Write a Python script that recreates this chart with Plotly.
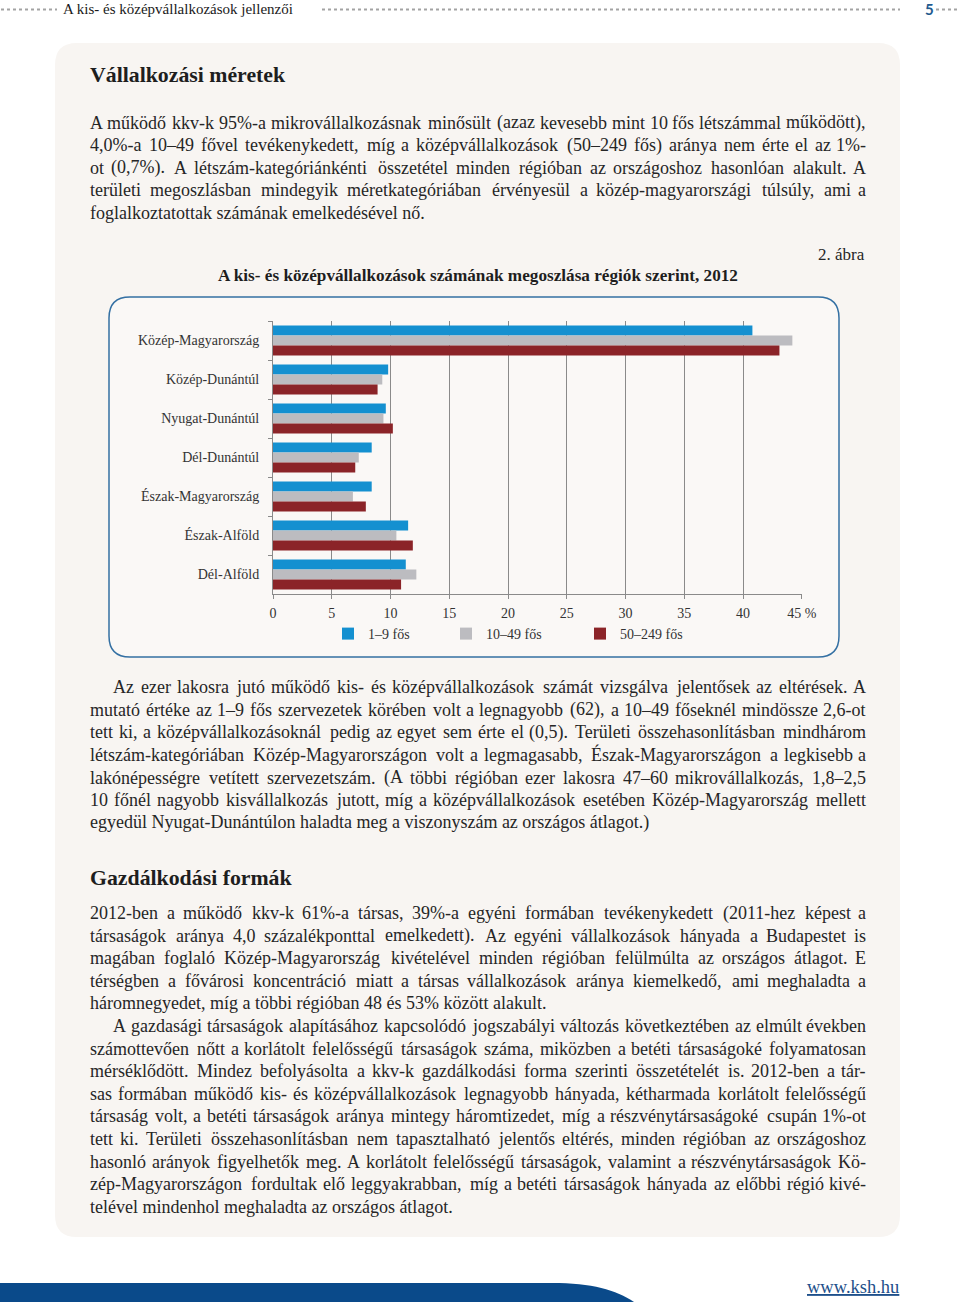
import unicodedata
import plotly.graph_objects as go

W, H = 960, 1308

# ---- chart data ----
regions = ['Közép-Magyarország', 'Közép-Dunántúl', 'Nyugat-Dunántúl', 'Dél-Dunántúl',
           'Észak-Magyarország', 'Észak-Alföld', 'Dél-Alföld']
series_names = ['1–9 fős', '10–49 fős', '50–249 fős']
micro = [40.8, 9.8, 9.6, 8.4, 8.4, 11.5, 11.3]
small = [44.2, 9.3, 9.4, 7.3, 6.8, 10.5, 12.2]
medium = [43.1, 8.9, 10.2, 7.0, 7.9, 11.9, 10.9]
x_ticks = [0, 5, 10, 15, 20, 25, 30, 35, 40, 45]
x_ticktext = ['0', '5', '10', '15', '20', '25', '30', '35', '40', '45 %']

# ---- page text ----
header_text = 'A kis- és középvállalkozások jellenzői'
page_no = '5'
heading1 = 'Vállalkozási méretek'
heading2 = 'Gazdálkodási formák'
chart_title = 'A kis- és középvállalkozások számának megoszlása régiók szerint, 2012'
fig_label = '2. ábra'
footer_url = 'www.ksh.hu'

para1 = [
    'A működő kkv-k 95%-a mikrovállalkozásnak minősült (azaz kevesebb mint 10 fős létszámmal működött),',
    '4,0%-a 10–49 fővel tevékenykedett, míg a középvállalkozások (50–249 fős) aránya nem érte el az 1%-',
    'ot (0,7%). A létszám-kategóriánkénti összetétel minden régióban az országoshoz hasonlóan alakult. A',
    'területi megoszlásban mindegyik méretkategóriában érvényesül a közép-magyarországi túlsúly, ami a',
    'foglalkoztatottak számának emelkedésével nő.',
]
para2 = [
    'Az ezer lakosra jutó működő kis- és középvállalkozások számát vizsgálva jelentősek az eltérések. A',
    'mutató értéke az 1–9 fős szervezetek körében volt a legnagyobb (62), a 10–49 főseknél mindössze 2,6-ot',
    'tett ki, a középvállalkozásoknál pedig az egyet sem érte el (0,5). Területi összehasonlításban mindhárom',
    'létszám-kategóriában Közép-Magyarországon volt a legmagasabb, Észak-Magyarországon a legkisebb a',
    'lakónépességre vetített szervezetszám. (A többi régióban ezer lakosra 47–60 mikrovállalkozás, 1,8–2,5',
    '10 főnél nagyobb kisvállalkozás jutott, míg a középvállalkozások esetében Közép-Magyarország mellett',
    'egyedül Nyugat-Dunántúlon haladta meg a viszonyszám az országos átlagot.)',
]
para3 = [
    '2012-ben a működő kkv-k 61%-a társas, 39%-a egyéni formában tevékenykedett (2011-hez képest a',
    'társaságok aránya 4,0 százalékponttal emelkedett). Az egyéni vállalkozások hányada a Budapestet is',
    'magában foglaló Közép-Magyarország kivételével minden régióban felülmúlta az országos átlagot. E',
    'térségben a fővárosi koncentráció miatt a társas vállalkozások aránya kiemelkedő, ami meghaladta a',
    'háromnegyedet, míg a többi régióban 48 és 53% között alakult.',
]
para4 = [
    'A gazdasági társaságok alapításához kapcsolódó jogszabályi változás következtében az elmúlt években',
    'számottevően nőtt a korlátolt felelősségű társaságok száma, miközben a betéti társaságoké folyamatosan',
    'mérséklődött. Mindez befolyásolta a kkv-k gazdálkodási forma szerinti összetételét is. 2012-ben a tár-',
    'sas formában működő kis- és középvállalkozások legnagyobb hányada, kétharmada korlátolt felelősségű',
    'társaság volt, a betéti társaságok aránya mintegy háromtizedet, míg a részvénytársaságoké csupán 1%-ot',
    'tett ki. Területi összehasonlításban nem tapasztalható jelentős eltérés, minden régióban az országoshoz',
    'hasonló arányok figyelhetők meg. A korlátolt felelősségű társaságok, valamint a részvénytársaságok Kö-',
    'zép-Magyarországon fordultak elő leggyakrabban, míg a betéti társaságok hányada az előbbi régió kivé-',
    'telével mindenhol meghaladta az országos átlagot.',
]

SERIF = 'Liberation Serif'
INK = '#262626'
BODY = 18

# rough Times glyph widths (1/1000 em), used only to spread words for justified lines
TW = {' ': 250, '%': 833, '(': 333, ')': 333, ',': 250, '-': 333, '.': 250, ':': 278,
      ';': 278, '–': 500, '?': 444,
      'A': 722, 'B': 667, 'C': 667, 'D': 722, 'E': 611, 'F': 556, 'G': 722, 'H': 722,
      'I': 333, 'J': 389, 'K': 722, 'L': 611, 'M': 889, 'N': 722, 'O': 722, 'P': 556,
      'R': 667, 'S': 556, 'T': 611, 'U': 722, 'V': 722, 'W': 944, 'Z': 611,
      'a': 444, 'b': 500, 'c': 444, 'd': 500, 'e': 444, 'f': 333, 'g': 500, 'h': 500,
      'i': 278, 'j': 278, 'k': 500, 'l': 278, 'm': 778, 'n': 500, 'o': 500, 'p': 500,
      'q': 500, 'r': 333, 's': 389, 't': 278, 'u': 500, 'v': 500, 'w': 722, 'x': 500,
      'y': 500, 'z': 444}


def X(px):
    return px / W


def Y(py):
    return 1 - py / H


def word_width(s, size):
    total = 0
    for ch in s:
        base = unicodedata.normalize('NFD', ch)[0]
        total += TW.get(base, 500)
    # the rendered font comes out a touch wider than the table
    return total * size / 1000 * 1.02


def rrect(x0, y0, x1, y1, r):
    return (f'M {X(x0 + r)},{Y(y0)} L {X(x1 - r)},{Y(y0)} Q {X(x1)},{Y(y0)} {X(x1)},{Y(y0 + r)} '
            f'L {X(x1)},{Y(y1 - r)} Q {X(x1)},{Y(y1)} {X(x1 - r)},{Y(y1)} '
            f'L {X(x0 + r)},{Y(y1)} Q {X(x0)},{Y(y1)} {X(x0)},{Y(y1 - r)} '
            f'L {X(x0)},{Y(y0 + r)} Q {X(x0)},{Y(y0)} {X(x0 + r)},{Y(y0)} Z')


fig = go.Figure()

# ---- bars ----
colors = ['#1490d0', '#bcbcc0', '#8b2428']
for i, (name, vals) in enumerate(zip(series_names, [micro, small, medium])):
    fig.add_trace(go.Bar(
        y=regions, x=vals, name=name, orientation='h',
        marker=dict(color=colors[i], line_width=0),
        legend='legend' if i == 0 else f'legend{i + 1}',
        hoverinfo='x+y+name',
    ))

axis_grey = '#8a8a8a'
fig.update_layout(
    width=W, height=H,
    # no auto-expansion: the legends would otherwise push the paper area in
    margin=dict(l=0, r=0, t=0, b=0, pad=0, autoexpand=False),
    paper_bgcolor='white',
    plot_bgcolor='rgba(0,0,0,0)',
    barmode='group', bargap=0.23, bargroupgap=0,
    xaxis=dict(
        domain=[X(273), X(802)], range=[0, 45.02],
        tickvals=x_ticks, ticktext=x_ticktext,
        showgrid=True, gridcolor=axis_grey, gridwidth=1,
        showline=True, linecolor=axis_grey, linewidth=1,
        ticks='outside', ticklen=4, tickcolor=axis_grey,
        zeroline=False, ticklabelstandoff=2, automargin=False,
        tickfont=dict(family=SERIF, size=14, color='#333333'),
    ),
    yaxis=dict(
        domain=[Y(594), Y(321)], autorange='reversed', type='category',
        showgrid=False, showline=True, linecolor=axis_grey, linewidth=1,
        ticks='outside', tickson='boundaries', ticklen=4, tickcolor=axis_grey,
        ticklabelstandoff=10, automargin=False,
        tickfont=dict(family=SERIF, size=14, color='#333333'),
    ),
    showlegend=True,
)

legend_x = [362, 480, 614]
for i, lx in enumerate(legend_x):
    key = 'legend' if i == 0 else f'legend{i + 1}'
    fig.update_layout({key: dict(
        x=X(lx - 34), y=Y(634), xanchor='left', yanchor='middle',
        orientation='h', bgcolor='rgba(0,0,0,0)', borderwidth=0,
        font=dict(family=SERIF, size=14, color='#333333'),
        itemwidth=30,
    )})

# ---- page decoration ----
shapes = [
    dict(type='path', path=rrect(55, 43, 900, 1237, 22), xref='paper', yref='paper',
         fillcolor='#f8f5f2', line=dict(width=0), layer='below'),
    dict(type='path', path=rrect(109, 297, 839, 657, 21), xref='paper', yref='paper',
         fillcolor='#faf8f6', line=dict(color='#3470a3', width=1.5), layer='below'),
    dict(type='path', xref='paper', yref='paper', layer='below',
         path=f'M {X(0)},{Y(1283)} L {X(552)},{Y(1283)} C {X(592)},{Y(1283)} {X(616)},{Y(1290)} '
              f'{X(634)},{Y(1302)} L {X(0)},{Y(1302)} Z',
         fillcolor='#0a4a8a', line=dict(width=0)),
]
for a, b in [(1, 57), (322, 900), (936, 959)]:
    shapes.append(dict(type='line', xref='paper', yref='paper', x0=X(a), x1=X(b), y0=Y(9.5), y1=Y(9.5),
                       line=dict(color='#a3a3a3', width=2, dash='dot')))
fig.update_layout(shapes=shapes)

annotations = [
    dict(x=X(61), y=Y(9), text=header_text, xanchor='left',
         font=dict(family=SERIF, size=15, color='#1a1a1a')),
    dict(x=X(929), y=Y(9), text=f'<b>{page_no}</b>', xanchor='center',
         font=dict(family='Lato', size=15, color='#1f5b8f')),
    dict(x=X(88), y=Y(75), text=f'<b>{heading1}</b>', xanchor='left',
         font=dict(family=SERIF, size=21.8, color='#1e1e1e')),
    dict(x=X(88), y=Y(878), text=f'<b>{heading2}</b>', xanchor='left',
         font=dict(family=SERIF, size=21.8, color='#1e1e1e')),
    dict(x=X(478), y=Y(275), text=f'<b>{chart_title}</b>', xanchor='center',
         font=dict(family=SERIF, size=17.2, color='#1e1e1e')),
    dict(x=X(867), y=Y(254), text=fig_label, xanchor='right',
         font=dict(family=SERIF, size=17, color=INK)),
    dict(x=X(901), y=Y(1287), text=footer_url, xanchor='right',
         font=dict(family=SERIF, size=18.5, color='#1d4f8a', lineposition='under')),
]
for a in annotations:
    a.update(xref='paper', yref='paper', yanchor='middle', showarrow=False)


def add_paragraph(lines, y0, step, indent):
    left, right = 89, 867
    for k, line in enumerate(lines):
        y = y0 + k * step
        x0 = indent if k == 0 else left
        words = line.split(' ')
        size = BODY
        if k < len(lines) - 1:
            # shrink a tight line a little rather than let its words collide
            while True:
                widths = [word_width(w, size) for w in words]
                gap = (right - x0 - sum(widths)) / (len(words) - 1)
                if gap >= 0.22 * size or size <= 16:
                    break
                size -= 0.25
        base = dict(xref='paper', yref='paper', y=Y(y), yanchor='middle', showarrow=False,
                    font=dict(family=SERIF, size=size, color=INK), borderpad=0)
        if k == len(lines) - 1:
            annotations.append(dict(base, x=X(x0), text=line, xanchor='left'))
            continue
        pos = x0
        for j, w in enumerate(words):
            if j == len(words) - 1:
                annotations.append(dict(base, x=X(right), text=w, xanchor='right'))
            else:
                annotations.append(dict(base, x=X(pos), text=w, xanchor='left'))
            pos += widths[j] + gap


add_paragraph(para1, 122.5, 22.6, 89)
add_paragraph(para2, 687, 22.65, 112)
add_paragraph(para3, 913, 22.55, 89)
add_paragraph(para4, 1026, 22.62, 112)

fig.update_layout(annotations=annotations)

# the default 8px body margin would push the 960x1308 page into scrollbars
fig.write_html('out.html', config={'responsive': False, 'displayModeBar': False},
               post_script="document.documentElement.style.overflow='hidden';"
                           "document.body.style.margin='0';document.body.style.overflow='hidden';")
